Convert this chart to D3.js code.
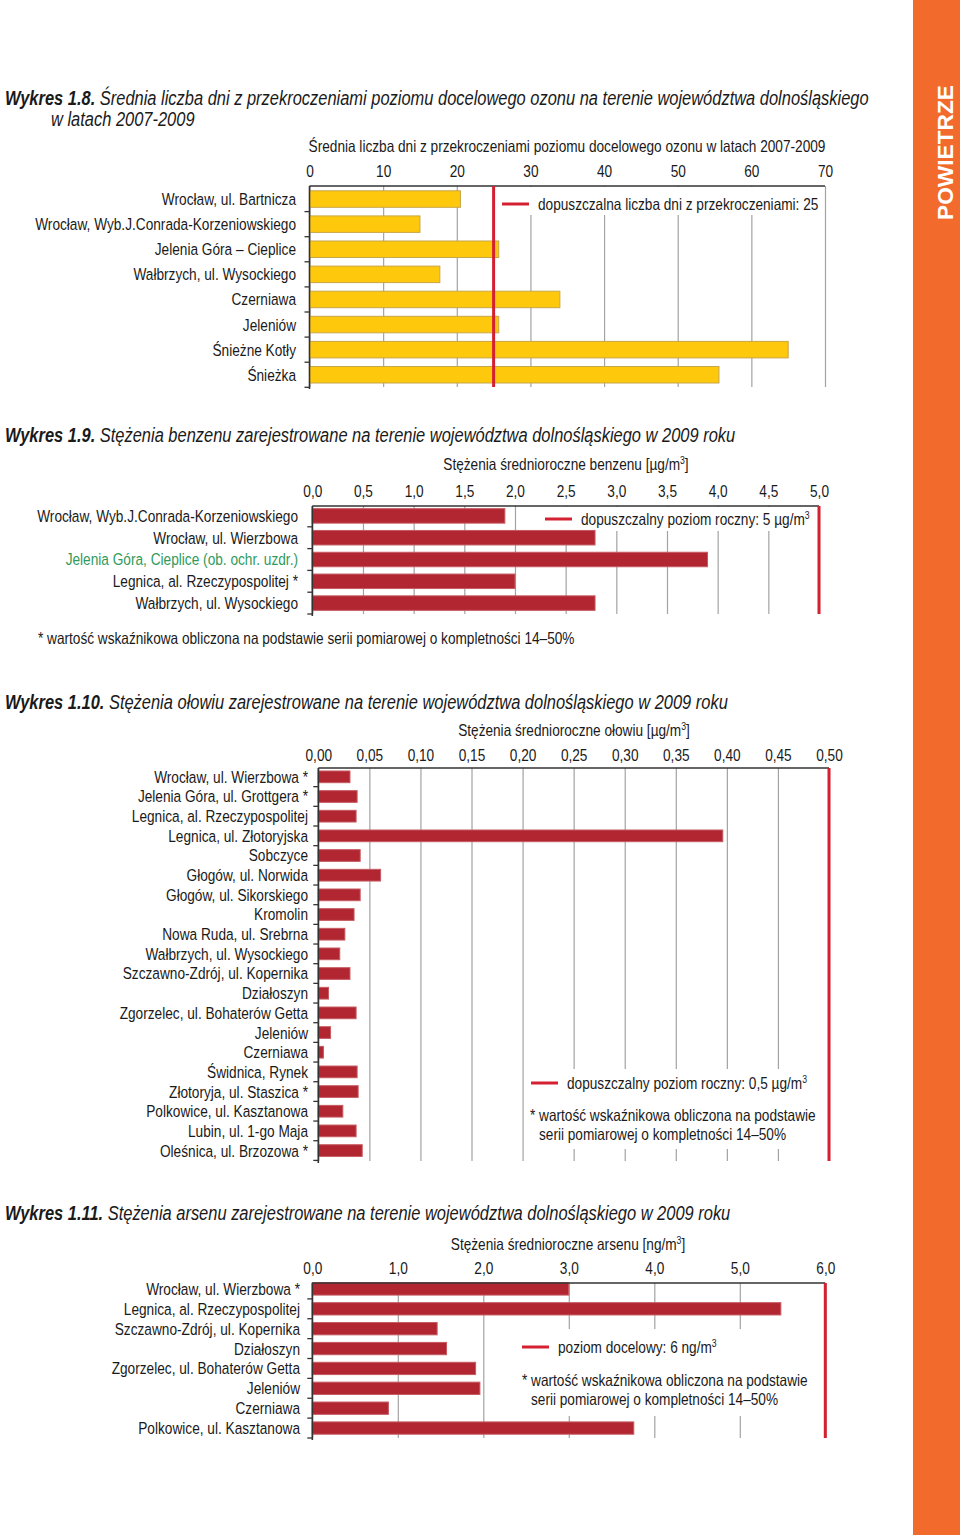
<!DOCTYPE html>
<html><head><meta charset="utf-8">
<script src="https://cdn.jsdelivr.net/npm/d3@7"></script>
<style>
html,body{margin:0;padding:0;background:#fff;}
svg{display:block;}
text{font-family:"Liberation Sans",Arial,sans-serif;fill:#1a1a1a;}
</style></head><body>
<svg id="c" width="960" height="1535"></svg>
<script>
// ---------- DATA ----------
const ozoneSites = ["Wrocław, ul. Bartnicza","Wrocław, Wyb.J.Conrada-Korzeniowskiego","Jelenia Góra – Cieplice","Wałbrzych, ul. Wysockiego","Czerniawa","Jeleniów","Śnieżne Kotły","Śnieżka"];
const ozoneDays = [20.5,15.0,25.7,17.7,34.0,25.7,65.0,55.6];
const ozoneTicks = [0,10,20,30,40,50,60,70];
const ozoneTickLabels = ["0","10","20","30","40","50","60","70"];
const ozoneLimit = 25;

const benzeneSites = ["Wrocław, Wyb.J.Conrada-Korzeniowskiego","Wrocław, ul. Wierzbowa","Jelenia Góra, Cieplice (ob. ochr. uzdr.)","Legnica, al. Rzeczypospolitej *","Wałbrzych, ul. Wysockiego"];
const benzeneValues = [1.90,2.79,3.90,2.00,2.79];
const benzeneTicks = [0,0.5,1,1.5,2,2.5,3,3.5,4,4.5,5];
const benzeneTickLabels = ["0,0","0,5","1,0","1,5","2,0","2,5","3,0","3,5","4,0","4,5","5,0"];
const benzeneLimit = 5;

const leadSites = ["Wrocław, ul. Wierzbowa *","Jelenia Góra, ul. Grottgera *","Legnica, al. Rzeczypospolitej","Legnica, ul. Złotoryjska","Sobczyce","Głogów, ul. Norwida","Głogów, ul. Sikorskiego","Kromolin","Nowa Ruda, ul. Srebrna","Wałbrzych, ul. Wysockiego","Szczawno-Zdrój, ul. Kopernika","Działoszyn","Zgorzelec, ul. Bohaterów Getta","Jeleniów","Czerniawa","Świdnica, Rynek","Złotoryja, ul. Staszica *","Polkowice, ul. Kasztanowa","Lubin, ul. 1-go Maja","Oleśnica, ul. Brzozowa *"];
const leadValues = [0.031,0.038,0.037,0.396,0.041,0.061,0.041,0.035,0.026,0.021,0.031,0.010,0.037,0.012,0.005,0.038,0.039,0.024,0.037,0.043];
const leadTicks = [0,0.05,0.1,0.15,0.2,0.25,0.3,0.35,0.4,0.45,0.5];
const leadTickLabels = ["0,00","0,05","0,10","0,15","0,20","0,25","0,30","0,35","0,40","0,45","0,50"];
const leadLimit = 0.5;

const arsenicSites = ["Wrocław, ul. Wierzbowa *","Legnica, al. Rzeczypospolitej","Szczawno-Zdrój, ul. Kopernika","Działoszyn","Zgorzelec, ul. Bohaterów Getta","Jeleniów","Czerniawa","Polkowice, ul. Kasztanowa"];
const arsenicValues = [3.00,5.48,1.46,1.57,1.91,1.96,0.89,3.76];
const arsenicTicks = [0,1,2,3,4,5,6];
const arsenicTickLabels = ["0,0","1,0","2,0","3,0","4,0","5,0","6,0"];
const arsenicLimit = 6;

const footnoteLines = ["* wartość wskaźnikowa obliczona na podstawie","serii pomiarowej o kompletności 14–50%"];
const chartTitles = [
  ["Wykres 1.8.","Średnia liczba dni z przekroczeniami poziomu docelowego ozonu na terenie województwa dolnośląskiego","w latach 2007-2009"],
  ["Wykres 1.9.","Stężenia benzenu zarejestrowane na terenie województwa dolnośląskiego w 2009 roku"],
  ["Wykres 1.10.","Stężenia ołowiu zarejestrowane na terenie województwa dolnośląskiego w 2009 roku"],
  ["Wykres 1.11.","Stężenia arsenu zarejestrowane na terenie województwa dolnośląskiego w 2009 roku"]
];

// ---------- DRAWING ----------
const svg = d3.select("#c");
const RED = "#d42030";
const FS = 16.5, TFS = 19.5;

// calibrate horizontal condensing (reference uses a condensed face)
function measure(str, size, style, weight){
  const t = svg.append("text").style("font-size",size+"px").style("font-style",style||"normal").style("font-weight",weight||"normal").text(str);
  const w = t.node().getComputedTextLength(); t.remove(); return w;
}
const kLabel = 261 / measure("Wrocław, Wyb.J.Conrada-Korzeniowskiego", FS);
const kText  = 537 / measure(footnoteLines[0]+" "+footnoteLines[1], FS);
const kTitle = 726 / (measure(chartTitles[1][0],TFS,"italic","bold") + measure(" "+chartTitles[1][1],TFS,"italic"));

function place(t, x, y, k){ return t.attr("x",0).attr("y",0).attr("transform",`translate(${x},${y}) scale(${k},1)`); }

// side band
svg.append("rect").attr("x",913).attr("y",0).attr("width",47).attr("height",1535).attr("fill","#f26a2c");
{
  const fsz = 22;
  const kP = 135 / measure("POWIETRZE", fsz, "normal", "bold");
  svg.append("text").attr("transform",`translate(953,152.5) rotate(-90) scale(${kP},1)`).attr("text-anchor","middle")
    .style("font-weight","bold").style("font-size",fsz+"px").style("fill","#fff").text("POWIETRZE");
}

function title(y, tt){
  const t = place(svg.append("text"),5,y,kTitle).style("font-size",TFS+"px").style("font-style","italic");
  t.append("tspan").style("font-weight","bold").text(tt[0]);
  t.append("tspan").text(" " + tt[1]);
  if(tt[2]) place(svg.append("text"),51,y+21,kTitle).style("font-size",TFS+"px").style("font-style","italic").text(tt[2]);
}

function supText(sel, x, y, main, sup, after, anchor){
  const t = place(sel.append("text"),x,y,kText).style("font-size",FS+"px");
  if(anchor) t.attr("text-anchor",anchor);
  t.append("tspan").text(main);
  if(sup){ t.append("tspan").attr("dy",-6).style("font-size","10.5px").text(sup);
    if(after) t.append("tspan").attr("dy",6).text(after); }
  return t;
}

function chart(cfg){
  const g = svg.append("g");
  const x = d3.scaleLinear().domain(cfg.domain).range([cfg.x0, cfg.x1]);
  const y = d3.scaleBand().domain(cfg.sites).range(cfg.yRange);
  const h = cfg.bottom - cfg.axisY;
  // axis title
  supText(g, cfg.titleX, cfg.titleY, cfg.axisTitle, cfg.axisSup, cfg.axisAfter, "middle");
  // gridlines + tick labels via axisTop
  const ax = d3.axisTop(x).tickValues(cfg.ticks).tickFormat((d,i)=>cfg.tickLabels[i]).tickSizeInner(-h).tickSizeOuter(0).tickPadding(0);
  const ag = g.append("g").attr("transform",`translate(0,${cfg.axisY})`).call(ax);
  ag.select(".domain").remove();
  ag.selectAll(".tick line").attr("stroke","#a3a3a3").attr("stroke-width",1.2);
  ag.selectAll(".tick text").attr("x",0).attr("y",0).attr("dy",0)
    .attr("transform",`translate(0,${cfg.tickY - cfg.axisY}) scale(${kText},1)`)
    .style("font-size",FS+"px").style("font-family","'Liberation Sans',Arial,sans-serif").attr("fill","#1a1a1a");
  // white legend box
  g.append("rect").attr("x",cfg.box[0]).attr("y",cfg.box[1]).attr("width",cfg.box[2]).attr("height",cfg.box[3]).attr("fill","#fff");
  // bars
  const bh = cfg.barH;
  g.selectAll("rect.bar").data(cfg.values).join("rect").attr("class","bar")
    .attr("x",x(0)).attr("y",(d,i)=>y(cfg.sites[i]) + (y.bandwidth()-bh)/2)
    .attr("width",d=>x(d)-x(0)).attr("height",bh)
    .attr("fill",cfg.fill).attr("stroke",cfg.stroke).attr("stroke-width",1);
  // top axis line
  g.append("line").attr("x1",x(0)).attr("x2",x(cfg.domain[1])).attr("y1",cfg.axisY).attr("y2",cfg.axisY).attr("stroke","#333").attr("stroke-width",1.6);
  // left axis line + boundary ticks
  g.append("line").attr("x1",x(0)).attr("x2",x(0)).attr("y1",cfg.axisY).attr("y2",cfg.bottom+2).attr("stroke","#333").attr("stroke-width",1.6);
  const bounds = d3.range(1, cfg.sites.length+1).map(i => cfg.yRange[0] + i*y.step());
  g.selectAll("line.bt").data(bounds).join("line").attr("class","bt")
    .attr("x1",x(0)-5).attr("x2",x(0)).attr("y1",d=>d).attr("y2",d=>d).attr("stroke","#333").attr("stroke-width",1.3);
  // reference line
  g.append("line").attr("x1",x(cfg.limit)).attr("x2",x(cfg.limit)).attr("y1",cfg.axisY).attr("y2",cfg.bottom).attr("stroke",RED).attr("stroke-width",3);
  // category labels
  g.selectAll("text.cat").data(cfg.sites).join("text").attr("class","cat")
    .attr("x",0).attr("y",0).attr("dy","0.36em").attr("text-anchor","end")
    .attr("transform",d=>`translate(${cfg.labelX},${y(d)+y.bandwidth()/2}) scale(${kLabel},1)`)
    .style("font-size",FS+"px").style("fill",(d,i)=> (cfg.green===i ? "#2f9a5c" : "#1a1a1a")).text(d=>d);
  // legend
  g.append("line").attr("x1",cfg.leg[0]).attr("x2",cfg.leg[0]+27).attr("y1",cfg.leg[1]).attr("y2",cfg.leg[1]).attr("stroke",RED).attr("stroke-width",3);
  supText(g, cfg.leg[0]+36, cfg.leg[1]+6, cfg.legText, cfg.legSup, null, null);
  if(cfg.foot){
    place(g.append("text"),cfg.foot[0],cfg.foot[1],kText).style("font-size",FS+"px").text(footnoteLines[0]);
    place(g.append("text"),cfg.foot[0]+9,cfg.foot[1]+19,kText).style("font-size",FS+"px").text(footnoteLines[1]);
  }
}

// Chart 1.8
title(105, chartTitles[0]);
chart({sites:ozoneSites, values:ozoneDays, domain:[0,70], ticks:ozoneTicks, tickLabels:ozoneTickLabels, limit:ozoneLimit,
  x0:309.5, x1:825, yRange:[186.5,387.3], axisY:186, bottom:387, barH:16.5, tickY:177,
  fill:"#fec80c", stroke:"#c8a64a", labelX:296,
  axisTitle:"Średnia liczba dni z przekroczeniami poziomu docelowego ozonu w latach 2007-2009", titleX:567, titleY:152,
  box:[497,187,326,28], leg:[502,204], legText:"dopuszczalna liczba dni z przekroczeniami: 25"});

// Chart 1.9
title(442, chartTitles[1]);
chart({sites:benzeneSites, values:benzeneValues, domain:[0,5], ticks:benzeneTicks, tickLabels:benzeneTickLabels, limit:benzeneLimit,
  x0:312.3, x1:819, yRange:[505,614], axisY:506, bottom:614, barH:14.5, tickY:497,
  fill:"#b12631", stroke:"#c65a61", labelX:298, green:2,
  axisTitle:"Stężenia średnioroczne benzenu [µg/m", axisSup:"3", axisAfter:"]", titleX:566, titleY:470,
  box:[540,507,272,24], leg:[545,519], legText:"dopuszczalny poziom roczny: 5 µg/m", legSup:"3"});
place(svg.append("text"),38,644,kText).style("font-size",FS+"px").text(footnoteLines[0]+" "+footnoteLines[1]);

// Chart 1.10
title(709, chartTitles[2]);
chart({sites:leadSites, values:leadValues, domain:[0,0.5], ticks:leadTicks, tickLabels:leadTickLabels, limit:leadLimit,
  x0:318.3, x1:829, yRange:[767,1160.4], axisY:768, bottom:1161, barH:11.7, tickY:761,
  fill:"#b12631", stroke:"#c65a61", labelX:308,
  axisTitle:"Stężenia średnioroczne ołowiu [µg/m", axisSup:"3", axisAfter:"]", titleX:574, titleY:736,
  box:[524,1069,298,80], leg:[531,1083], legText:"dopuszczalny poziom roczny: 0,5 µg/m", legSup:"3", foot:[530,1121]});

// Chart 1.11
title(1220, chartTitles[3]);
chart({sites:arsenicSites, values:arsenicValues, domain:[0,6], ticks:arsenicTicks, tickLabels:arsenicTickLabels, limit:arsenicLimit,
  x0:312.3, x1:825.3, yRange:[1279,1438], axisY:1283, bottom:1438, barH:12.3, tickY:1274,
  fill:"#b12631", stroke:"#c65a61", labelX:300,
  axisTitle:"Stężenia średnioroczne arsenu [ng/m", axisSup:"3", axisAfter:"]", titleX:568, titleY:1250,
  box:[515,1329,300,87], leg:[522,1347], legText:"poziom docelowy: 6 ng/m", legSup:"3", foot:[522,1386]});
</script>
</body></html>
